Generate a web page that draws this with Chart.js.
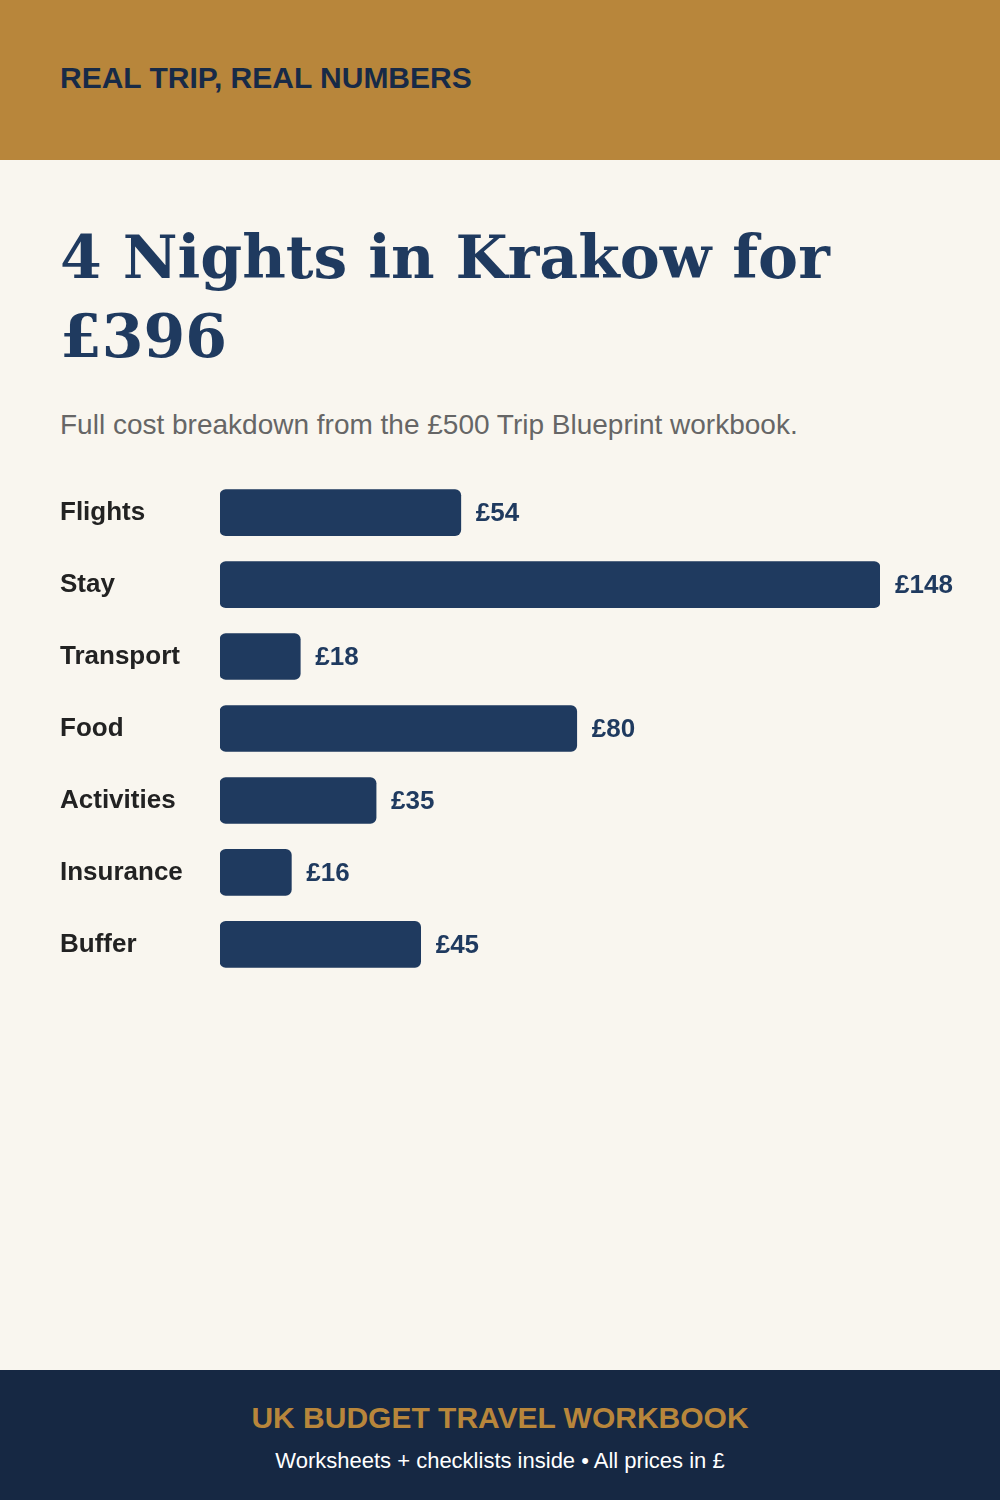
<!DOCTYPE html>
<html>
<head>
<meta charset="utf-8">
<script src="https://cdn.jsdelivr.net/npm/chart.js@4.4.1/dist/chart.umd.min.js"></script>
<style>
  html, body { margin: 0; padding: 0; }
  body {
    width: 1000px; height: 1500px; position: relative; overflow: hidden;
    background: #f9f6ef; font-family: "Liberation Sans", Arial, sans-serif;
  }
  .top { position: absolute; left: 0; top: 0; width: 1000px; height: 160px; background: #b8863b; }
  .top span { position: absolute; left: 60px; top: 61px; font-size: 30px; font-weight: bold; color: #172a47; }
  h1 {
    position: absolute; left: 60px; top: 218px; width: 880px; margin: 0;
    font-family: "DejaVu Serif", serif; font-weight: bold; font-size: 60px; line-height: 79px; color: #1f3a5f;
  }
  .sub { position: absolute; left: 60px; top: 409px; margin: 0; font-size: 28px; color: #666; }
  .wrap { position: absolute; left: 60px; top: 461px; width: 940px; height: 535px; }
  .foot { position: absolute; left: 0; top: 1370px; width: 1000px; height: 130px; background: #162843; text-align: center; }
  .foot .a { position: absolute; left: 0; right: 0; top: 31px; font-size: 30px; font-weight: bold; color: #b8863b; }
  .foot .b { position: absolute; left: 0; right: 0; top: 78px; font-size: 22px; color: #ffffff; }
</style>
</head>
<body>
<div class="top"><span>REAL TRIP, REAL NUMBERS</span></div>
<h1>4 Nights in Krakow for £396</h1>
<p class="sub">Full cost breakdown from the £500 Trip Blueprint workbook.</p>
<div class="wrap"><canvas id="chart"></canvas></div>
<div class="foot">
  <div class="a">UK BUDGET TRAVEL WORKBOOK</div>
  <div class="b">Worksheets + checklists inside • All prices in £</div>
</div>
<script>
const categories = ["Flights", "Stay", "Transport", "Food", "Activities", "Insurance", "Buffer"];
const costs = [54, 148, 18, 80, 35, 16, 45];

const NAVY = "#1f3a5f";

// value labels at the end of each bar
const valueLabels = {
  id: "valueLabels",
  afterDatasetsDraw(chart) {
    const ctx = chart.ctx;
    const meta = chart.getDatasetMeta(0);
    ctx.save();
    ctx.font = "bold 26px 'Liberation Sans', Arial, sans-serif";
    ctx.fillStyle = NAVY;
    ctx.textBaseline = "middle";
    meta.data.forEach((bar, i) => {
      ctx.fillText("£" + costs[i], bar.x + 15, bar.y + 1);
    });
    ctx.restore();
  },
};

new Chart(document.getElementById("chart"), {
  type: "bar",
  data: {
    labels: categories,
    datasets: [{
      data: costs,
      backgroundColor: NAVY,
      borderRadius: 6,
      borderSkipped: false,
      barThickness: 46,
    }],
  },
  options: {
    indexAxis: "y",
    responsive: true,
    maintainAspectRatio: false,
    animation: false,
    layout: { padding: { left: 0, right: 120, top: 0, bottom: 0 } },
    plugins: { legend: { display: false }, tooltip: { enabled: false } },
    scales: {
      x: { display: false, min: 0, max: 148 },
      y: {
        grid: { display: false },
        border: { display: false },
        afterFit(axis) { axis.width = 160; },
        ticks: {
          crossAlign: "far",
          padding: 0,
          color: "#222",
          font: { family: "'Liberation Sans', Arial, sans-serif", size: 26, weight: "bold" },
        },
      },
    },
  },
  plugins: [valueLabels],
});
</script>
</body>
</html>
